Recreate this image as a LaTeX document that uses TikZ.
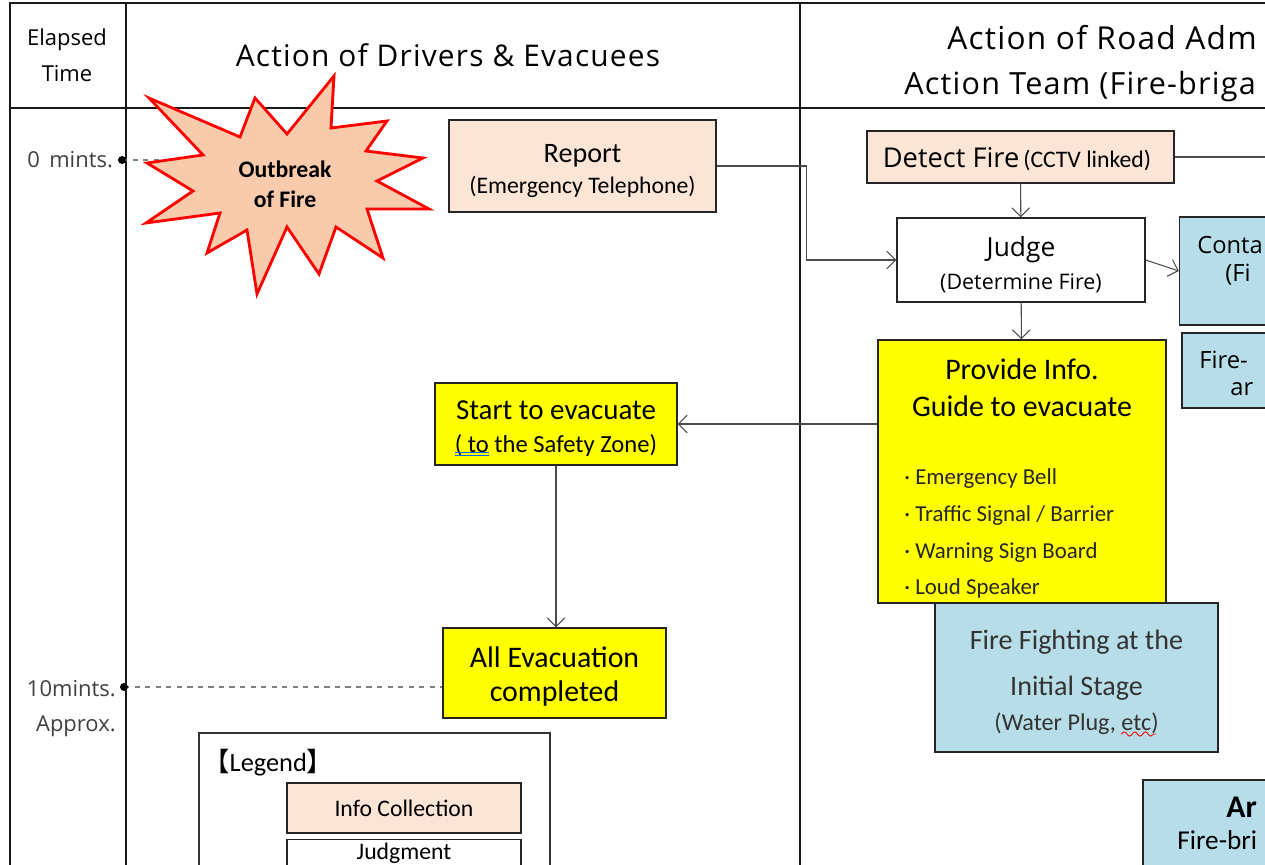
\documentclass[tikz,border=0pt]{standalone}
\usepackage{fontspec}
\setmainfont{Carlito}
\newfontfamily\meiryo{Open Sans}
\newfontfamily\meiryowide[LetterSpace=4]{Open Sans}
\newfontfamily\cjk{Noto Sans CJK JP}
\usetikzlibrary{arrows.meta,decorations.pathmorphing}

\definecolor{peach}{HTML}{FBE5D6}
\definecolor{starfill}{HTML}{F8CBAD}
\definecolor{lightblue}{HTML}{B7DEE8}
\definecolor{hiyellow}{HTML}{FFFF00}

\tikzset{
  box/.style={draw=black!85, line width=0.8pt, inner sep=0pt},
  infobox/.style={box, fill=peach},
  actbox/.style={box, fill=hiyellow},
  teambox/.style={box, fill=lightblue},
  boxtext/.style={align=center, inner sep=0pt},
  flow/.style={draw=black!70, line width=0.6pt, -{Straight Barb[length=5pt,width=10pt]}},
  timeline/.style={draw=black!50, dashed, line width=0.8pt},
  frame/.style={draw=black!90, line width=1pt},
  timelabel/.style={anchor=east, inner sep=0pt, text=black!75, font=\meiryo\fontsize{12.5}{20}\selectfont, align=right},
  headtext/.style={inner sep=0pt, font=\meiryowide\fontsize{17}{20}\selectfont},
  cuttext/.style={anchor=west, inner sep=0pt, font=\meiryo\fontsize{13.5}{16}\selectfont},
}

\begin{document}
\begin{tikzpicture}[x=0.02cm, y=-0.02cm]
    % Page and clip
    \useasboundingbox (0,0) rectangle (1265,865);
    \fill[white] (0,0) rectangle (1265,865);
    \clip (0,0) rectangle (1265,865);

    % Define the points of the table
    \coordinate (rim) at (1300,0);
    \coordinate (t0) at (122,160);
    \coordinate (t10) at (124,687);

    % Draw the table lines
    \draw[frame] (10,900) -- (10,3) -- (1300,3);
    \draw[frame] (10,108) -- (1300,108);
    \draw[frame, line width=0.8pt] (126,3) -- (126,900);
    \draw[frame, line width=1.3pt] (800,3) -- (800,900);

    % Headers
    \node[font=\meiryo\fontsize{12.5}{20.5}\selectfont, align=center] (elapsed) at (67,55) {Elapsed\\Time};
    \node[headtext] (drivers) at (448,55) {Action of Drivers \& Evacuees};
    \node[headtext, anchor=west, font=\meiryowide\fontsize{18}{20}\selectfont] (roadA) at (947,38) {Action of Road Adm};
    \node[headtext, anchor=west, font=\meiryowide\fontsize{17.4}{20}\selectfont] (roadB) at (904,87) {Action Team (Fire-briga};

    % Time marks
    \draw[timeline] (t0) -- (170,160);
    \fill (t0) circle (4);
    \node[timelabel] (zero) at ([xshift=-5]t0) {0\, mints.};
    \draw[timeline] (t10) -- (t10 -| 443,0);
    \fill (t10) circle (4);
    \node[timelabel, anchor=north east] (ten) at (116,680) {10mints.\\Approx.};

    % Outbreak star
    \draw[draw=red, line width=1.6pt, fill=starfill, line join=miter]
        (149,98) -- (240,137) -- (255,98) -- (287,134) -- (334,76) -- (331,128)
        -- (387,121) -- (366,151) -- (423,158) -- (377,181) -- (429,209)
        -- (367,209) -- (383,258) -- (336,227) -- (319,274) -- (287,227)
        -- (257,294) -- (247,230) -- (207,253) -- (220,213) -- (146,223)
        -- (193,191) -- (147,163) -- (203,155) -- cycle;
    \node[boxtext, font=\bfseries\fontsize{13.5}{17}\selectfont] (outbreak) at (285,184) {Outbreak\\of Fire};

    % Drivers column
    \node[infobox, minimum width=5.34cm, minimum height=1.84cm] (report) at (582.5,166) {};
    \node[boxtext, font=\fontsize{13.5}{18}\selectfont] (reportT) at (582.5,171)
        {{\fontsize{16}{18}\selectfont Report}\\(Emergency Telephone)};
    \node[actbox, minimum width=4.84cm, minimum height=1.64cm] (start) at (556,424) {};
    \node[boxtext, font=\fontsize{14}{18.7}\selectfont] (startT) at (556,428.5)
        {{\fontsize{16.5}{18.7}\selectfont Start to evacuate}\\( to the Safety Zone)};
    \node[actbox, minimum width=4.46cm, minimum height=1.8cm] (allevac) at (554.5,673) {};
    \node[boxtext, font=\fontsize{17}{19.8}\selectfont] (allevacT) at (554.5,676.5) {All Evacuation\\completed};

    % Legend
    \node[box, draw=black!80, minimum width=7.02cm, minimum height=3.4cm] (legend) at (374.5,818) {};
    \node[anchor=west, inner sep=0pt, font=\fontsize{15}{18}\selectfont] (legendT) at (203,763) {{\cjk 【}Legend{\cjk 】}};
    \node[infobox, minimum width=4.68cm, minimum height=1cm, font=\fontsize{13.5}{16}\selectfont]
        (infocol) at (404,808) {Info Collection};
    \node[box, fill=white, minimum width=4.68cm, minimum height=1.3cm] (judgment) at (404,872) {};
    \node[boxtext, font=\fontsize{13.5}{16}\selectfont] (judgmentT) at (404,853) {Judgment};

    % Road administrator column
    \node[infobox, minimum width=6.14cm, minimum height=1.04cm] (detect) at (1020.5,157) {};
    \node[boxtext] (detectT) at (1017,159)
        {{\meiryo\fontsize{15.5}{18}\selectfont Detect Fire} {\fontsize{13.5}{16}\selectfont (CCTV linked)}};
    \node[box, fill=white, minimum width=4.96cm, minimum height=1.68cm] (judge) at (1021,260) {};
    \node[boxtext, font=\meiryo\fontsize{12.2}{18.7}\selectfont] (judgeT) at (1021,265)
        {{\fontsize{15}{18.7}\selectfont Judge}\\(Determine Fire)};
    \node[teambox, minimum width=3cm, minimum height=2.16cm] (contact) at (1254.5,271) {};
    \node[cuttext] (contactA) at (1197,245) {Conta};
    \node[cuttext] (contactB) at (1225,275) {(Fi};
    \node[teambox, minimum width=2.96cm, minimum height=1.5cm] (brigade) at (1256,370.5) {};
    \node[cuttext] (brigadeA) at (1199,360) {Fire-};
    \node[cuttext] (brigadeB) at (1230,389) {ar};
    \node[actbox, minimum width=5.76cm, minimum height=5.26cm] (provide) at (1022,471.5) {};
    \node[boxtext, font=\fontsize{17}{21}\selectfont] (provideT) at (1022,388) {Provide Info.\\Guide to evacuate};
    \node[anchor=west, inner sep=0pt, font=\fontsize{13}{21}\selectfont, align=left, text=black!85] (devices) at (904,533.5)
        {· Emergency Bell\\· Traffic Signal / Barrier\\· Warning Sign Board\\· Loud Speaker};
    \node[teambox, minimum width=5.66cm, minimum height=2.98cm] (fighting) at (1076.5,677.5) {};
    \node[boxtext, font=\fontsize{13.75}{19.8}\selectfont, text=black!80] (fightingT) at (1076.5,682)
        {{\fontsize{16}{19.8}\selectfont Fire Fighting at the}\\[6.5pt]{\fontsize{16}{19.8}\selectfont Initial Stage}\\(Water Plug, etc)};
    \node[teambox, minimum width=3.74cm, minimum height=2.4cm] (arrival) at (1236.5,840) {};
    \node[anchor=west, inner sep=0pt, font=\bfseries\fontsize{18}{20}\selectfont] (arrivalA) at (1226,807) {Ar};
    \node[anchor=west, inner sep=0pt, font=\fontsize{15.5}{18}\selectfont] (arrivalB) at (1177,840) {Fire-bri};

    % Proofing marks
    \draw[blue!60!cyan, line width=0.4pt] (455,452) -- (489,452) (455,455) -- (489,455);
    \draw[red, line width=0.5pt, decorate, decoration={snake, amplitude=1.2, segment length=6}] (1121,734) -- (1156,734);

    % Connectors
    \draw[flow] (report.east) -- ++(90,0) |- (judge.west);
    \draw[flow] (detect) -- (judge);
    \draw[flow] (judge) -- (provide);
    \draw[flow] (judge.east) -- (contact.west);
    \draw[flow] (provide.west |- start.east) -- (start.east);
    \draw[flow] (start.south) -- (start.south |- allevac.north);
    \draw[draw=black!70, line width=0.6pt] (detect.east) -- (detect.east -| rim);
\end{tikzpicture}
\end{document}
